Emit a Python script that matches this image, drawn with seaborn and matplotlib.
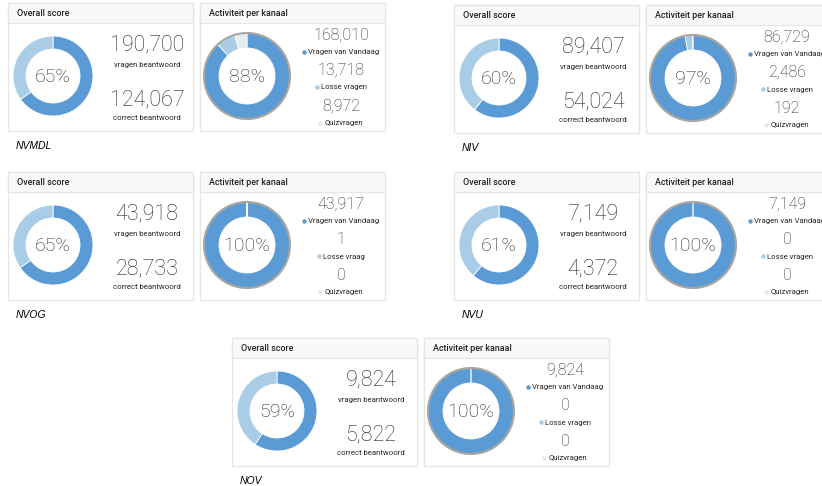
import matplotlib
matplotlib.use('Agg')
import matplotlib.pyplot as plt
import seaborn as sns
from matplotlib.patches import Rectangle, Circle

# values
groups = ['NVMDL', 'NIV', 'NVOG', 'NVU', 'NOV']
answered = [190700, 89407, 43918, 7149, 9824]
correct = [124067, 54024, 28733, 4372, 5822]
score_pct = [65, 60, 65, 61, 59]
vandaag = [168010, 86729, 43917, 7149, 9824]
losse = [13718, 2486, 1, 0, 0]
quiz = [8972, 192, 0, 0, 0]
channel_pct = [88, 97, 100, 100, 100]
losse_labels = ['Losse vragen', 'Losse vragen', 'Losse vraag', 'Losse vragen', 'Losse vragen']

# pixel offsets of each group of two panels
offsets = [(0, 0), (446, 2), (0, 169), (446, 169), (224, 335)]

W, H = 822, 486
PW, PH, HH = 185, 128, 20

sns.set_theme(style='white')
plt.rcParams['font.family'] = ['Roboto', 'DejaVu Sans']

dark, light, pale = '#5b9bd5', '#a9cde6', '#e3ebf2'
txt = '#262626'
border = '#e6e6e6'

fig = plt.figure(figsize=(W / 100, H / 100), dpi=100)
fig.patch.set_facecolor('white')


def px_axes(x, y, w, h):
    return fig.add_axes([x / W, 1 - (y + h) / H, w / W, h / H])


def panel(x, y, title):
    ax = px_axes(x, y, PW, PH)
    ax.set_xlim(0, PW)
    ax.set_ylim(PH, 0)
    ax.axis('off')
    ax.add_patch(Rectangle((0, 0), PW, PH, facecolor='white', edgecolor=border, lw=0.9, clip_on=False))
    ax.add_patch(Rectangle((0, 0), PW, HH, facecolor='#f9f9f9', edgecolor=border, lw=0.9, clip_on=False))
    ax.text(9, HH / 2 + 0.5, title, fontsize=6.4, color='#222222', va='center', weight='medium')
    return ax


def donut(cx, cy, R, ring, values, cols, label, outline=False):
    ax = px_axes(cx - R - 3, cy - R - 3, 2 * R + 6, 2 * R + 6)
    ax.pie(values, colors=cols, startangle=90, counterclock=False, radius=1,
           wedgeprops=dict(width=ring / R, edgecolor='white', linewidth=0.6))
    lim = (R + 3) / R
    ax.set_xlim(-lim, lim)
    ax.set_ylim(-lim, lim)
    ax.set_aspect('equal')
    if outline:
        ax.add_patch(Circle((0, 0), 1.0, fill=False, edgecolor='#aaa69f', lw=1.5))
    ax.text(0, -0.02, label, ha='center', va='center', fontsize=14, color=txt, weight='light')
    return ax


legend_items = []
for i, g in enumerate(groups):
    ox, oy = offsets[i]

    # overall score panel
    p1 = panel(8 + ox, 3 + oy, 'Overall score')
    donut(8 + ox + 45, 3 + oy + 73, 40, 13, [correct[i], answered[i] - correct[i]],
          [dark, light], f'{score_pct[i]}%')
    p1.text(139, 42, f'{answered[i]:,}', ha='center', va='center', fontsize=15.5, color=txt, weight='light')
    p1.text(139, 62, 'vragen beantwoord', ha='center', va='center', fontsize=5.6, color=txt)
    p1.text(139, 97, f'{correct[i]:,}', ha='center', va='center', fontsize=15.5, color=txt, weight='light')
    p1.text(139, 115, 'correct beantwoord', ha='center', va='center', fontsize=5.6, color=txt)

    # channel panel
    p2 = panel(200 + ox, 3 + oy, 'Activiteit per kanaal')
    donut(200 + ox + 47, 3 + oy + 73, 43, 15, [vandaag[i], losse[i], quiz[i]],
          [dark, light, pale], f'{channel_pct[i]}%', outline=True)
    vals = [vandaag[i], losse[i], quiz[i]]
    labs = ['Vragen van Vandaag', losse_labels[i], 'Quizvragen']
    cols = [dark, light, pale]
    for k in range(3):
        y = 32 + k * 35.5
        p2.text(141, y, f'{vals[k]:,}', ha='center', va='center', fontsize=11.5, color=txt, weight='light')
        t = p2.text(144, y + 17, labs[k], ha='center', va='center', fontsize=5.6, color=txt)
        legend_items.append((p2, t, y + 17, cols[k]))

    fig.text((16 + ox) / W, 1 - (147 + oy - 1) / H, g, fontsize=7.5, style='italic',
             color='black', va='center', ha='left', family=['Liberation Sans', 'DejaVu Sans'])

# legend dots placed just left of each label
fig.canvas.draw()
renderer = fig.canvas.get_renderer()
for ax, t, y, c in legend_items:
    bb = t.get_window_extent(renderer)
    x0 = ax.transData.inverted().transform((bb.x0, bb.y0))[0]
    ax.plot([x0 - 4.5], [y], marker='o', ms=3.2, color=c, mec='none', clip_on=False)

fig.savefig('out.png', dpi=100, facecolor='white')
